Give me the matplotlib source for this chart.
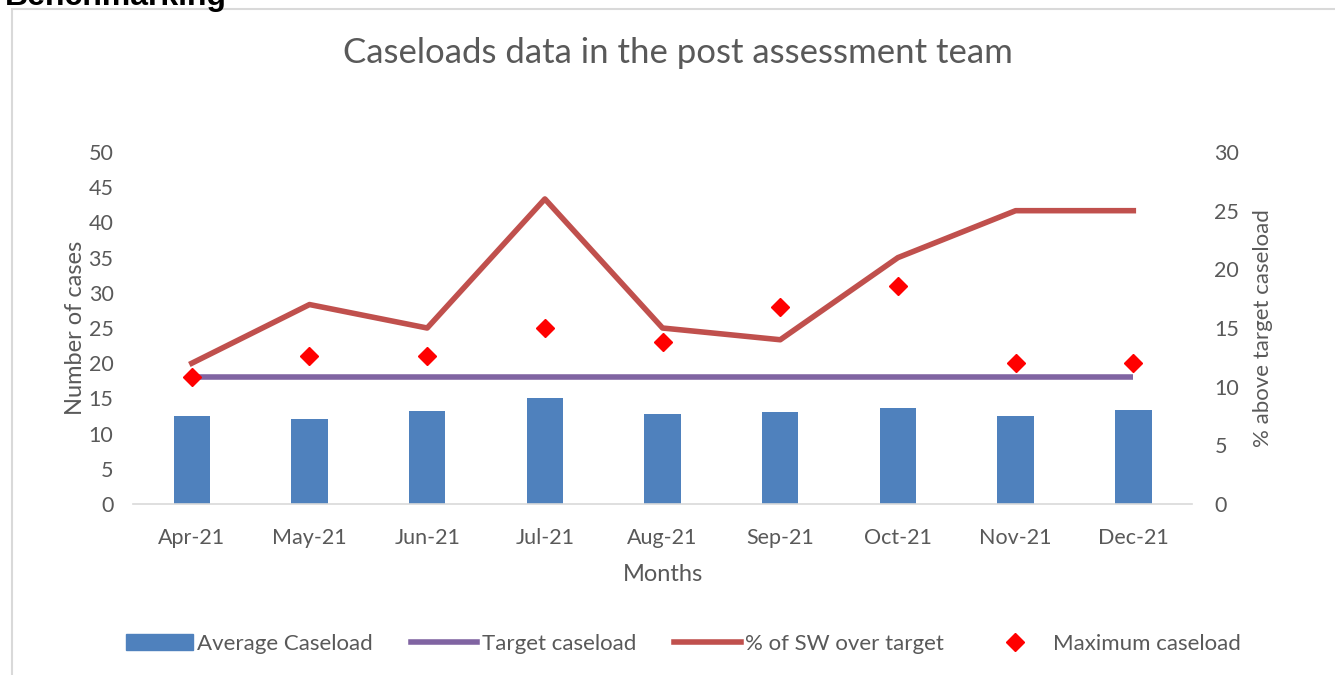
import matplotlib.pyplot as plt
from matplotlib.patches import Rectangle
from matplotlib.lines import Line2D
import numpy as np

plt.rcParams['font.family'] = ['Lato', 'DejaVu Sans']

months = ['Apr-21', 'May-21', 'Jun-21', 'Jul-21', 'Aug-21', 'Sep-21', 'Oct-21', 'Nov-21', 'Dec-21']
avg_caseload = [12.5, 12.1, 13.2, 15.1, 12.8, 13.1, 13.7, 12.5, 13.4]
target_caseload = [18, 18, 18, 18, 18, 18, 18, 18, 18]
max_caseload = [18, 21, 21, 25, 23, 28, 31, 20, 20]
pct_over = [12, 17, 15, 26, 15, 14, 21, 25, 25]

grey = '#595959'
x = np.arange(len(months))

fig = plt.figure(figsize=(13.35, 6.75), dpi=100)
ax = fig.add_axes([0.0996, 0.2533, 0.7934, 0.5215])
ax2 = ax.twinx()

ax.bar(x, avg_caseload, width=0.31, color='#4f81bd', zorder=2)
ax.plot(x, target_caseload, color='#8064a2', lw=4, solid_capstyle='butt', zorder=3)
ax2.plot(x, pct_over, color='#c0504d', lw=4, zorder=3)
ax.plot(x, max_caseload, linestyle='none', marker='D', ms=9, color='#ff0000', zorder=4)
ax.set_zorder(ax2.get_zorder() + 1)
ax.patch.set_visible(False)

ax.set_xlim(-0.5, len(months) - 0.5)
ax.set_ylim(0, 50)
ax.set_yticks(range(0, 51, 5))
ax2.set_ylim(0, 30)
ax2.set_yticks(range(0, 31, 5))
ax.set_xticks(x)
ax.set_xticklabels(months)

for a in (ax, ax2):
    for s in a.spines.values():
        s.set_visible(False)
    a.tick_params(length=0, labelsize=15.5, colors=grey)
ax.spines['bottom'].set_visible(True)
ax.spines['bottom'].set_color('#d9d9d9')
ax.spines['bottom'].set_linewidth(1.2)
ax.tick_params(axis='x', pad=17)
ax.tick_params(axis='y', pad=14)
ax2.tick_params(axis='y', pad=16)

ax.set_ylabel('Number of cases', fontsize=17, color=grey, labelpad=2)
ax2.set_ylabel('% above target caseload', fontsize=16, color=grey, labelpad=10)
ax.set_xlabel('Months', fontsize=17, color=grey, labelpad=12)

fig.text(0.508, 0.922, 'Caseloads data in the post assessment team', ha='center', va='center',
         fontsize=25, color=grey)
fig.text(0.004, 1 - 5 / 675, 'Benchmarking', ha='left', va='baseline', fontsize=23,
         fontweight='bold', family=['Liberation Sans'], color='black')
fig.patches.append(Rectangle((12 / 1335, -0.01), 1.0, 1 - 9 / 675 + 0.01, transform=fig.transFigure,
                             fill=False, edgecolor='#d9d9d9', lw=1.5))

handles = [Rectangle((0, 0), 1, 1, color='#4f81bd'),
           Line2D([], [], color='#8064a2', lw=4),
           Line2D([], [], color='#c0504d', lw=4),
           Line2D([], [], linestyle='none', marker='D', ms=9, color='#ff0000')]
labels = ['Average Caseload', 'Target caseload', '% of SW over target', 'Maximum caseload']
leg = fig.legend(handles, labels, loc='center', bbox_to_anchor=(0.512, 0.046), ncol=4, frameon=False,
                 fontsize=16, handlelength=3.0, handletextpad=0.2, columnspacing=1.7)
for t in leg.get_texts():
    t.set_color(grey)

fig.savefig('out.png', dpi=100)
